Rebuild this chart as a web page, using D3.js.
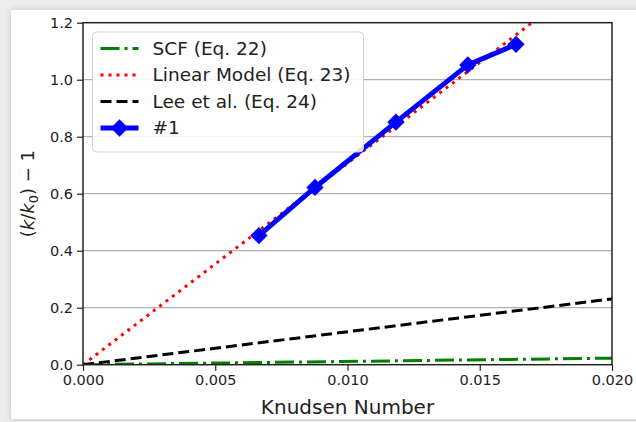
<!DOCTYPE html>
<html>
<head>
<meta charset="utf-8">
<script src="https://cdn.jsdelivr.net/npm/d3@7"></script>
<style>
  body { margin: 0; background: #ededed; width: 636px; height: 422px; overflow: hidden; }
  #card { position: absolute; left: 11px; top: 10px; width: 640px; height: 409px; background: #fff;
          box-shadow: 0 0 6px rgba(0,0,0,0.18); }
  #chart-area { position: absolute; left: 0; top: 0; }
  text { font-family: "DejaVu Sans", sans-serif; fill: #222; }
</style>
</head>
<body>
<div id="card"></div>
<div id="chart-area"></div>
<script>
// model lines are straight, so two end points each
let knModel = [0, 0.02];
let scfValues = [0, 0.023];
let linearValues = [0, 1.414];
let leeValues = [0, 0.231];

// measured case #1
let knData = [0.00665, 0.00877, 0.01183, 0.01455, 0.01637];
let data1 = [0.453, 0.622, 0.851, 1.052, 1.124];

let xTicks = [0, 0.005, 0.010, 0.015, 0.020];
let yTicks = [0, 0.2, 0.4, 0.6, 0.8, 1.0, 1.2];

let legendLabels = ["SCF (Eq. 22)", "Linear Model (Eq. 23)", "Lee et al. (Eq. 24)", "#1"];

let margin = {top: 22.7, right: 24, bottom: 57, left: 83},
  width = 636 - margin.left - margin.right,
  height = 422 - margin.top - margin.bottom - 0.3;

let svg = d3.select("#chart-area")
  .append("svg")
  .attr("width", 636)
  .attr("height", 422)
  .append("g")
  .attr("transform", "translate(" + margin.left + "," + margin.top + ")");

let x = d3.scaleLinear().domain([0, 0.02]).range([0, width]);
let y = d3.scaleLinear().domain([0, 1.2]).range([height, 0]);

svg.append("clipPath").attr("id", "clip")
  .append("rect").attr("width", width).attr("height", height);

// grid lines
svg.append("g")
  .selectAll("line")
  .data(yTicks.slice(1, -1))
  .enter()
  .append("line")
  .attr("x1", 0).attr("x2", width)
  .attr("y1", d => y(d)).attr("y2", d => y(d))
  .attr("stroke", "#b0b0b0")
  .attr("stroke-width", 1.2);

let line = d3.line().x(d => x(d[0])).y(d => y(d[1]));

let series = [
  {vals: scfValues, color: "#008000", dash: "19,5,3,5"},
  {vals: linearValues, color: "#ff0000", dash: "3,5"},
  {vals: leeValues, color: "#000000", dash: "11,5"}
];

let plot = svg.append("g").attr("clip-path", "url(#clip)");

plot.selectAll(".model")
  .data(series)
  .enter()
  .append("path")
  .attr("class", "model")
  .attr("d", s => line(knModel.map((k, i) => [k, s.vals[i]])))
  .attr("fill", "none")
  .attr("stroke", s => s.color)
  .attr("stroke-width", 3)
  .attr("stroke-dasharray", s => s.dash);

let pts = knData.map((k, i) => [k, data1[i]]);

plot.append("path")
  .attr("d", line(pts))
  .attr("fill", "none")
  .attr("stroke", "#0000ff")
  .attr("stroke-width", 5);

let diamond = d3.symbol().type(d3.symbolSquare).size(150);

svg.selectAll(".marker")
  .data(pts)
  .enter()
  .append("path")
  .attr("class", "marker")
  .attr("d", diamond)
  .attr("transform", d => "translate(" + x(d[0]) + "," + y(d[1]) + ") rotate(45)")
  .attr("fill", "#0000ff");

// axes
let xAxis = d3.axisBottom(x).tickValues(xTicks).tickFormat(d3.format(".3f")).tickSize(6).tickPadding(4);
let yAxis = d3.axisLeft(y).tickValues(yTicks).tickFormat(d3.format(".1f")).tickSize(6).tickPadding(4);

svg.append("g")
  .attr("class", "x-axis axis")
  .attr("transform", "translate(0," + height + ")")
  .call(xAxis);

svg.append("g")
  .attr("class", "y-axis axis")
  .call(yAxis);

svg.selectAll(".axis text").style("font-size", "14.5px").style("font-family", "DejaVu Sans").attr("fill", "#222");
svg.selectAll(".axis line").attr("stroke", "#222").attr("stroke-width", 1.2);
svg.selectAll(".axis .domain").remove();

// frame
svg.append("rect")
  .attr("width", width).attr("height", height)
  .attr("fill", "none")
  .attr("stroke", "#222")
  .attr("stroke-width", 1.5);

// axis titles
svg.append("text")
  .attr("x", width / 2)
  .attr("y", height + 49)
  .style("text-anchor", "middle")
  .style("font-size", "20px")
  .text("Knudsen Number");

let yl = svg.append("text")
  .attr("transform", "translate(" + (28 - margin.left + 6) + "," + (height / 2) + ") rotate(-90)")
  .style("text-anchor", "middle")
  .style("font-size", "18px");
yl.append("tspan").text("(");
yl.append("tspan").style("font-style", "italic").text("k");
yl.append("tspan").text("/");
yl.append("tspan").style("font-style", "italic").text("k");
yl.append("tspan").attr("dy", 4).style("font-size", "13px").text("0");
yl.append("tspan").attr("dy", -4).text(") \u2212 1");

// legend
let lg = svg.append("g").attr("transform", "translate(" + (92.5 - margin.left) + "," + (32 - margin.top) + ")");
lg.append("rect")
  .attr("width", 271).attr("height", 120)
  .attr("rx", 4)
  .attr("fill", "#fff").attr("fill-opacity", 0.85)
  .attr("stroke", "#d0d0d0");

let legendItems = series.concat([{color: "#0000ff", dash: null}]);

let rows = lg.selectAll(".leg")
  .data(legendItems)
  .enter()
  .append("g")
  .attr("class", "leg")
  .attr("transform", (d, i) => "translate(0," + (16.5 + i * 26.5) + ")");

rows.append("line")
  .attr("x1", 8).attr("x2", 46)
  .attr("stroke", d => d.color)
  .attr("stroke-width", (d, i) => i == 3 ? 5 : 3)
  .attr("stroke-dasharray", d => d.dash);

rows.filter((d, i) => i == 3)
  .append("path")
  .attr("d", diamond)
  .attr("transform", "translate(27,0) rotate(45)")
  .attr("fill", "#0000ff");

rows.append("text")
  .attr("x", 60)
  .attr("dy", "0.35em")
  .style("font-size", "18.5px")
  .text((d, i) => legendLabels[i]);
</script>
</body>
</html>
